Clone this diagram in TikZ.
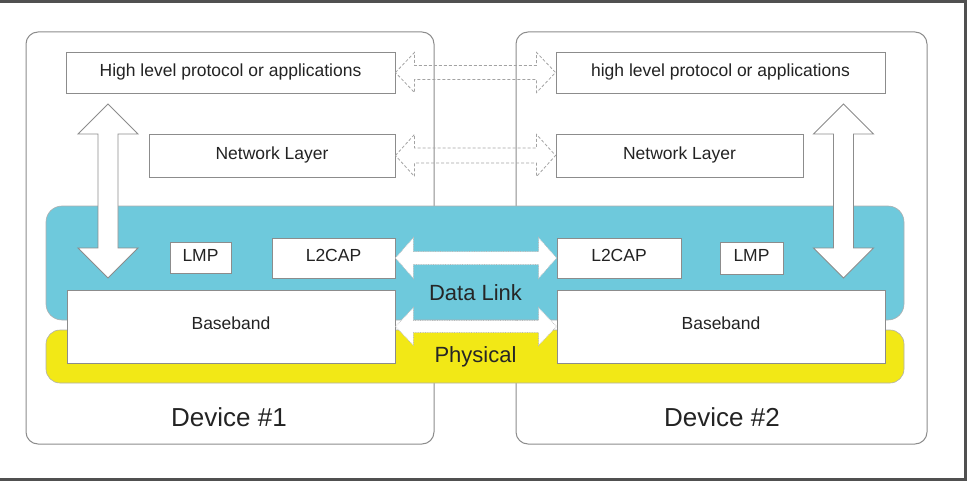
\documentclass[tikz,border=0pt]{standalone}
\usepackage{fontspec}
\setmainfont{Liberation Sans}
\usetikzlibrary{calc}
\definecolor{bandcyan}{RGB}{110,201,220}
\definecolor{bandyellow}{RGB}{242,232,22}
\definecolor{boxline}{RGB}{140,140,140}
\definecolor{txt}{RGB}{35,35,35}
\definecolor{frameline}{RGB}{80,80,80}
\newcommand\hdblarrow[6]{% style, from, to, half head, half shaft, head length
  \draw[#1] let \p1=(#2), \p2=(#3) in
   (\x1,\y1) -- (\x1+#6,\y1+#4) -- (\x1+#6,\y1+#5) -- (\x2-#6,\y1+#5)
   -- (\x2-#6,\y1+#4) -- (\x2,\y1) -- (\x2-#6,\y1-#4) -- (\x2-#6,\y1-#5)
   -- (\x1+#6,\y1-#5) -- (\x1+#6,\y1-#4) -- cycle;}
\newcommand\vdblarrow[6]{% style, top, bottom, half head, half shaft, head length
  \draw[#1] let \p1=(#2), \p2=(#3) in
   (\x1,\y1) -- (\x1+#4,\y1-#6) -- (\x1+#5,\y1-#6) -- (\x1+#5,\y2+#6)
   -- (\x1+#4,\y2+#6) -- (\x1,\y2) -- (\x1-#4,\y2+#6) -- (\x1-#5,\y2+#6)
   -- (\x1-#5,\y1-#6) -- (\x1-#4,\y1-#6) -- cycle;}
\begin{document}
\begin{tikzpicture}[x=1pt,y=1pt,
  device/.style={draw=boxline,line width=1pt,rounded corners=12pt,minimum width=#1,minimum height=412pt,inner sep=0pt},
  band/.style={draw=boxline!70,line width=0.6pt,inner sep=0pt},
  layerbox/.style={draw=boxline,line width=0.9pt,fill=white,inner sep=0pt,text=txt,font=\fontsize{17.5}{19}\selectfont},
  bandlabel/.style={text=black!85,font=\fontsize{22}{24}\selectfont,inner sep=0pt},
  devlabel/.style={text=txt,font=\fontsize{26}{28}\selectfont,inner sep=0pt},
  dasharrow/.style={draw=boxline!80,line width=0.8pt,densely dashed},
  dotarrow/.style={draw=boxline!60,fill=white,line width=0.7pt,densely dotted},
  solidarrow/.style={draw=boxline,fill=white,line width=0.9pt}]
\useasboundingbox (0,0) rectangle (969,-484);
% outer frame (top, right, bottom visible)
\draw[frameline,line width=3pt] (0,-2) -- (965,-2) -- (965,-479) -- (0,-479);
% devices
\node[device=408pt] (dev1) at (230,-238) {};
\node[device=411pt] (dev2) at (721.5,-238) {};
% bands
\node[band,fill=bandcyan,rounded corners=16pt,minimum width=858pt,minimum height=114pt] (dlband) at (475,-263) {};
\node[band,fill=bandyellow,rounded corners=14pt,minimum width=858pt,minimum height=53pt] (phband) at (475,-356.5) {};
% layer boxes
\node[layerbox,minimum width=329pt,minimum height=41pt] (hl1) at (230.5,-72.5) {\raisebox{5pt}{High level protocol or applications}};
\node[layerbox,minimum width=329pt,minimum height=41pt] (hl2) at (720.5,-72.5) {\raisebox{5pt}{high level protocol or applications}};
\node[layerbox,minimum width=246pt,minimum height=43pt] (nl1) at (272,-155.5) {\raisebox{5pt}{Network Layer}};
\node[layerbox,minimum width=247pt,minimum height=43pt] (nl2) at (679.5,-155.5) {\raisebox{5pt}{Network Layer}};
\node[layerbox,minimum width=61pt,minimum height=31pt] (lmp1) at (200.5,-257.5) {\raisebox{5pt}{LMP}};
\node[layerbox,minimum width=123pt,minimum height=40pt] (l2cap1) at (333.5,-258) {\raisebox{6pt}{L2CAP}};
\node[layerbox,minimum width=124pt,minimum height=40pt] (l2cap2) at (619,-258) {\raisebox{6pt}{L2CAP}};
\node[layerbox,minimum width=63pt,minimum height=32pt] (lmp2) at (751.5,-258) {\raisebox{5pt}{LMP}};
\node[layerbox,minimum width=328pt,minimum height=73pt] (bb1) at (231,-326.5) {\raisebox{7pt}{Baseband}};
\node[layerbox,minimum width=328pt,minimum height=73pt] (bb2) at (721,-326.5) {\raisebox{7pt}{Baseband}};
% band labels
\node[bandlabel] (dltext) at (475.5,-293) {Data Link};
\node[bandlabel] (phtext) at (475.5,-357) {Physical};
% device labels
\node[devlabel] (dev1text) at (229,-417) {Device \#1};
\node[devlabel] (dev2text) at (722,-417) {Device \#2};
% horizontal peer arrows
\hdblarrow{dasharrow}{hl1.east}{hl2.west}{20pt}{7pt}{19pt}
\hdblarrow{dasharrow}{nl1.east}{nl2.west}{21pt}{7.5pt}{19pt}
\hdblarrow{dotarrow}{l2cap1.east}{l2cap2.west}{20.5pt}{6.5pt}{18pt}
\hdblarrow{dotarrow}{bb1.east}{bb2.west}{19pt}{6pt}{18pt}
% vertical arrows
\coordinate (v1top) at (108,-104);
\coordinate (v1bot) at (108,-278);
\coordinate (v2top) at (843.5,-104);
\coordinate (v2bot) at (843.5,-278);
\vdblarrow{solidarrow}{v1top}{v1bot}{30pt}{10pt}{30pt}
\vdblarrow{solidarrow}{v2top}{v2bot}{30pt}{10pt}{30pt}
\end{tikzpicture}
\end{document}
